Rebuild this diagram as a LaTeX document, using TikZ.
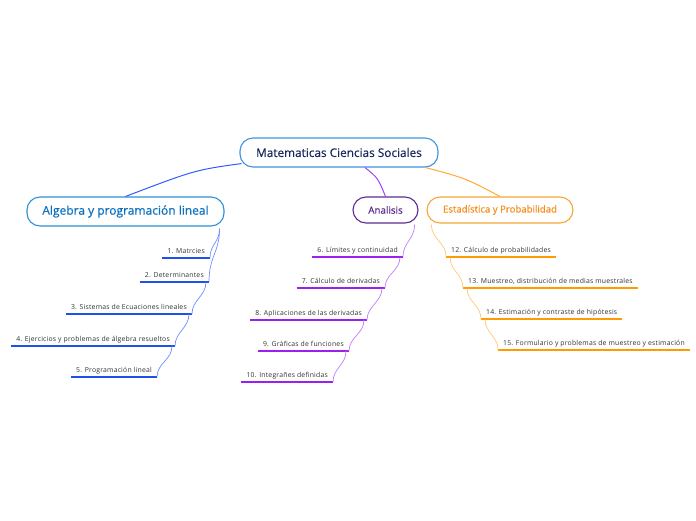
\documentclass[tikz,border=0pt]{standalone}
\usepackage{fontspec}
\setmainfont{Open Sans}
\newfontfamily\semib[FakeBold=0.5]{Open Sans}
\newfontfamily\labfont[LetterSpace=3]{Open Sans}
\usetikzlibrary{calc}
\definecolor{rootbd}{HTML}{3F93E2}
\definecolor{roottx}{HTML}{1B2A5C}
\definecolor{algbd}{HTML}{2E90D6}
\definecolor{algtx}{HTML}{0C72C0}
\definecolor{algmain}{HTML}{2F5BFF}
\definecolor{algul}{HTML}{1F4FEF}
\definecolor{algthin}{HTML}{6F8FFF}
\definecolor{anabd}{HTML}{5B2C8F}
\definecolor{anamain}{HTML}{A040FF}
\definecolor{anaul}{HTML}{9B1FF0}
\definecolor{anathin}{HTML}{C27CFF}
\definecolor{estbd}{HTML}{F7A535}
\definecolor{esttx}{HTML}{F39020}
\definecolor{estmain}{HTML}{FFAA33}
\definecolor{estul}{HTML}{FF9A00}
\definecolor{estthin}{HTML}{FFC870}
\definecolor{labtx}{HTML}{333333}
\tikzset{
  topic/.style={draw, rounded corners=13pt, line width=1.1pt, fill=white, inner sep=0pt, align=center},
  item/.style={inner xsep=5pt, inner ysep=2.5pt, text height=5pt, text depth=1.5pt, text=labtx, font=\labfont\fontsize{6.85}{8}\selectfont},
  ul/.style={line width=1.8pt},
  thin/.style={line width=0.7pt},
  mainc/.style={line width=1pt},
}
\begin{document}
\begin{tikzpicture}[x=1pt,y=-1pt]
\useasboundingbox (0,0) rectangle (696,520);
% topics
\node[topic, draw=rootbd, text=roottx, minimum width=198pt, minimum height=29pt, font=\semib\fontsize{11.8}{13}\selectfont] (root) at (339,152.5) {Matematicas Ciencias Sociales};
\node[topic, draw=algbd, text=algtx, minimum width=197pt, minimum height=29pt, font=\semib\fontsize{12}{13}\selectfont] (alg) at (125.5,211.5) {Algebra y programación lineal};
\node[topic, draw=anabd, text=anabd, minimum width=65pt, minimum height=26pt, font=\semib\fontsize{9.8}{10}\selectfont] (ana) at (385.5,210) {Analisis};
\node[topic, draw=estbd, text=esttx, minimum width=146pt, minimum height=26pt, font=\semib\fontsize{9.6}{10}\selectfont] (est) at (500,210) {Estadística y Probabilidad};
% main connectors
\draw[mainc, algmain] ([xshift=2pt,yshift=4pt]root.south west) .. controls (195,170) .. (alg.north);
\draw[mainc, anamain] ([xshift=26pt]root.south) .. controls (378,178) .. (ana.north);
\draw[mainc, estmain] ([xshift=-13pt]root.south east) .. controls (465,178) .. (est.north);
% Algebra items
\node[item, anchor=south east] (a1) at (210,258) {1. Matrcies};
\node[item, anchor=south east] (a2) at (209,282) {2. Determinantes};
\node[item, anchor=south east] (a3) at (192,314) {3. Sistemas de Ecuaciones lineales};
\node[item, anchor=south east] (a4) at (175,346) {4. Ejercicios y problemas de álgebra resueltos};
\node[item, anchor=south east] (a5) at (157,377) {5. Programación lineal};
\foreach \n in {a1,a2,a3,a4,a5} {\draw[ul, algul] (\n.south west) -- (\n.south east);}
\coordinate (ac) at ([xshift=-5pt,yshift=-2pt]alg.south east);
\draw[thin, algthin] (ac) .. controls +(0,14) and +(0,-14) .. (a1.south east);
\draw[thin, algthin] (ac) .. controls +(0,24) and +(0,-26) .. (a2.south east);
\draw[thin, algthin] ([xshift=-3pt]a2.south east) .. controls +(0,14) and +(0,-14) .. (a3.south east);
\draw[thin, algthin] ([xshift=-3pt]a3.south east) .. controls +(0,14) and +(0,-14) .. (a4.south east);
\draw[thin, algthin] ([xshift=-3pt]a4.south east) .. controls +(0,14) and +(0,-14) .. (a5.south east);
% Analisis items
\node[item, anchor=south east] (b6) at (403,257) {6. Límites y continuidad};
\node[item, anchor=south east] (b7) at (385,288) {7. Cálculo de derivadas};
\node[item, anchor=south east] (b8) at (367,320) {8. Aplicaciones de las derivadas};
\node[item, anchor=south east] (b9) at (349,351) {9. Gráficas de funciones};
\node[item, anchor=south east] (b10) at (333,382) {10. Integrañes definidas};
\foreach \n in {b6,b7,b8,b9,b10} {\draw[ul, anaul] (\n.south west) -- (\n.south east);}
\coordinate (bc) at ([xshift=-4pt,yshift=-1pt]ana.south east);
\draw[thin, anathin] (bc) .. controls +(0,15) and +(0,-15) .. (b6.south east);
\draw[thin, anathin] ([xshift=-3pt]b6.south east) .. controls +(0,14) and +(0,-14) .. (b7.south east);
\draw[thin, anathin] ([xshift=-3pt]b7.south east) .. controls +(0,14) and +(0,-14) .. (b8.south east);
\draw[thin, anathin] ([xshift=-3pt]b8.south east) .. controls +(0,14) and +(0,-14) .. (b9.south east);
\draw[thin, anathin] ([xshift=-3pt]b9.south east) .. controls +(0,14) and +(0,-14) .. (b10.south east);
% Estadistica items
\node[item, anchor=south west] (c12) at (446,257) {12. Cálculo de probabilidades};
\node[item, anchor=south west] (c13) at (463,288) {13. Muestreo, distribución de medias muestrales};
\node[item, anchor=south west] (c14) at (481,319) {14. Estimación y contraste de hipótesis};
\node[item, anchor=south west] (c15) at (498,350) {15. Formulario y problemas de muestreo y estimación};
\foreach \n in {c12,c13,c14,c15} {\draw[ul, estul] (\n.south west) -- (\n.south east);}
\coordinate (cc) at ([xshift=5pt,yshift=-1pt]est.south west);
\draw[thin, estthin] (cc) .. controls +(0,15) and +(0,-15) .. (c12.south west);
\draw[thin, estthin] ([xshift=4pt]c12.south west) .. controls +(0,14) and +(0,-14) .. (c13.south west);
\draw[thin, estthin] ([xshift=4pt]c13.south west) .. controls +(0,14) and +(0,-14) .. (c14.south west);
\draw[thin, estthin] ([xshift=4pt]c14.south west) .. controls +(0,14) and +(0,-14) .. (c15.south west);
\end{tikzpicture}
\end{document}
